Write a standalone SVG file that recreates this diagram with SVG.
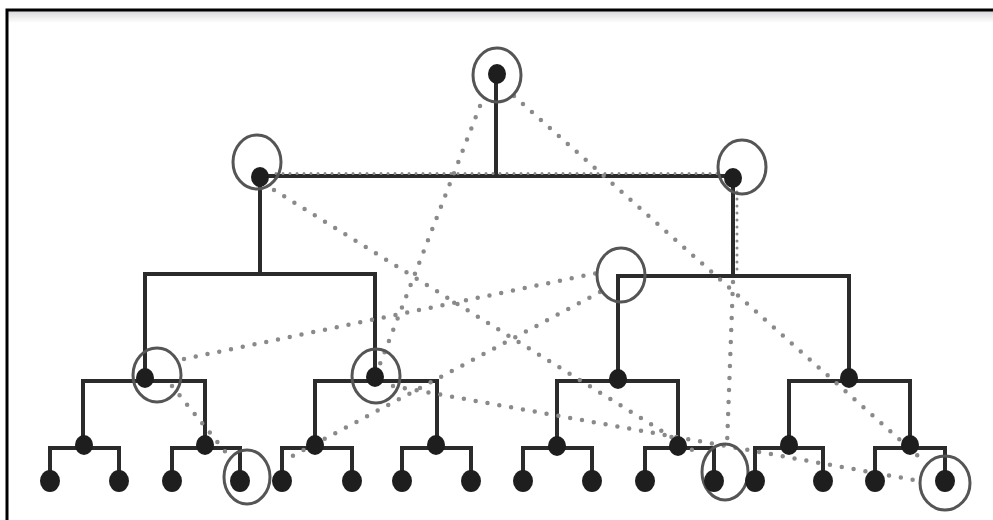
<svg xmlns="http://www.w3.org/2000/svg" width="993" height="520" viewBox="0 0 993 520">
<defs>
<linearGradient id="fade" x1="0" y1="0" x2="0" y2="1">
<stop offset="0" stop-color="#d8d8dc"/>
<stop offset="1" stop-color="#ffffff"/>
</linearGradient>
</defs>
<style>
.tree{fill:none;stroke:#2b2b2b;stroke-width:4;stroke-linecap:square}
.dot{fill:#1e1e1e}
.ring{fill:none;stroke:#555;stroke-width:3}
.dotted{fill:none;stroke:#8a8a8a;stroke-width:4.5;stroke-linecap:round;stroke-dasharray:0 12}
.overlay{fill:none;stroke:#8a8a8a;stroke-width:3;stroke-linecap:round;stroke-dasharray:0 7}
</style>
<rect x="0" y="0" width="993" height="520" fill="#ffffff"/>
<rect x="8" y="11" width="985" height="12" fill="url(#fade)"/>
<g id="frame" fill="none" stroke="#000" stroke-width="3">
<path d="M7 520 V10 H993"/>
</g>
<g id="connectors">
<g id="tree-lines" class="tree">
<path d="M496 76 V176 M260 176 H733"/>
<path d="M260 176 V274 M145 274 H375 M145 274 V379 M375 274 V378"/>
<path d="M733 176 V276 M618 276 H849 M618 276 V380 M849 276 V378"/>
<path d="M83 446 V381 H205 V446 M315 446 V381 H437 V446 M557 446 V381 H678 V446 M789 446 V381 H910 V446"/>
<path d="M50 481 V448 H119 V481 M172 481 V448 H240 V481 M282 481 V448 H352 V481 M402 481 V448 H471 V481"/>
<path d="M523 481 V448 H592 V481 M645 481 V448 H714 V481 M755 481 V448 H823 V481 M875 481 V448 H945 V481"/>
</g>
<g id="dotted-lines" class="dotted">
<path d="M480 106 L380 364"/>
<path d="M514 96 L926 463"/>
<path d="M274 190 L702 456"/>
<path d="M184 359 L597 273"/>
<path d="M600 292 L285 460"/>
<path d="M393 386 L920 481"/>
<path d="M733 282 L727 445"/>
<path d="M172 386 L228 455"/>
</g>
<g id="dotted-overlays" class="overlay">
<path d="M276 173.5 H722"/>
<path d="M737 192 V272"/>
</g>
</g>
<g id="n-root"><ellipse class="ring" cx="497" cy="75" rx="24" ry="27"/><ellipse class="dot" cx="497" cy="74" rx="9" ry="10"/></g>
<g id="n-l1-left"><ellipse class="ring" cx="257" cy="162" rx="24" ry="27"/><ellipse class="dot" cx="260" cy="177" rx="9" ry="10"/></g>
<g id="n-l1-right"><ellipse class="ring" cx="742" cy="167" rx="24" ry="27"/><ellipse class="dot" cx="733" cy="178" rx="9" ry="10"/></g>
<g id="n-mid-ring"><ellipse class="ring" cx="621" cy="275" rx="24" ry="27"/></g>
<g id="n-l2-1"><ellipse class="ring" cx="157" cy="375" rx="24" ry="27"/><ellipse class="dot" cx="145" cy="378" rx="9" ry="10"/></g>
<g id="n-l2-2"><ellipse class="ring" cx="376" cy="376" rx="24" ry="27"/><ellipse class="dot" cx="375" cy="377" rx="9" ry="10"/></g>
<g id="n-l2-3"><ellipse class="dot" cx="618" cy="379" rx="9" ry="10"/></g>
<g id="n-l2-4"><ellipse class="dot" cx="849" cy="378" rx="9" ry="10"/></g>
<g id="n-l3-1"><ellipse class="dot" cx="84" cy="445" rx="9" ry="10"/></g>
<g id="n-l3-2"><ellipse class="dot" cx="205" cy="445" rx="9" ry="10"/></g>
<g id="n-l3-3"><ellipse class="dot" cx="315" cy="445" rx="9" ry="10"/></g>
<g id="n-l3-4"><ellipse class="dot" cx="436" cy="445" rx="9" ry="10"/></g>
<g id="n-l3-5"><ellipse class="dot" cx="557" cy="446" rx="9" ry="10"/></g>
<g id="n-l3-6"><ellipse class="dot" cx="678" cy="446" rx="9" ry="10"/></g>
<g id="n-l3-7"><ellipse class="dot" cx="789" cy="445" rx="9" ry="10"/></g>
<g id="n-l3-8"><ellipse class="dot" cx="910" cy="445" rx="9" ry="10"/></g>
<g id="n-leaf-1"><ellipse class="dot" cx="50" cy="481" rx="10" ry="11"/></g>
<g id="n-leaf-2"><ellipse class="dot" cx="119" cy="481" rx="10" ry="11"/></g>
<g id="n-leaf-3"><ellipse class="dot" cx="172" cy="481" rx="10" ry="11"/></g>
<g id="n-leaf-4"><ellipse class="ring" cx="247" cy="477" rx="23" ry="27"/><ellipse class="dot" cx="240" cy="481" rx="10" ry="11"/></g>
<g id="n-leaf-5"><ellipse class="dot" cx="282" cy="481" rx="10" ry="11"/></g>
<g id="n-leaf-6"><ellipse class="dot" cx="352" cy="481" rx="10" ry="11"/></g>
<g id="n-leaf-7"><ellipse class="dot" cx="402" cy="481" rx="10" ry="11"/></g>
<g id="n-leaf-8"><ellipse class="dot" cx="471" cy="481" rx="10" ry="11"/></g>
<g id="n-leaf-9"><ellipse class="dot" cx="523" cy="481" rx="10" ry="11"/></g>
<g id="n-leaf-10"><ellipse class="dot" cx="592" cy="481" rx="10" ry="11"/></g>
<g id="n-leaf-11"><ellipse class="dot" cx="645" cy="481" rx="10" ry="11"/></g>
<g id="n-leaf-12"><ellipse class="ring" cx="725" cy="472" rx="23" ry="28"/><ellipse class="dot" cx="714" cy="481" rx="10" ry="11"/></g>
<g id="n-leaf-13"><ellipse class="dot" cx="755" cy="481" rx="10" ry="11"/></g>
<g id="n-leaf-14"><ellipse class="dot" cx="823" cy="481" rx="10" ry="11"/></g>
<g id="n-leaf-15"><ellipse class="dot" cx="875" cy="481" rx="10" ry="11"/></g>
<g id="n-leaf-16"><ellipse class="ring" cx="945" cy="483" rx="25" ry="27"/><ellipse class="dot" cx="945" cy="481" rx="10" ry="11"/></g>
</svg>
